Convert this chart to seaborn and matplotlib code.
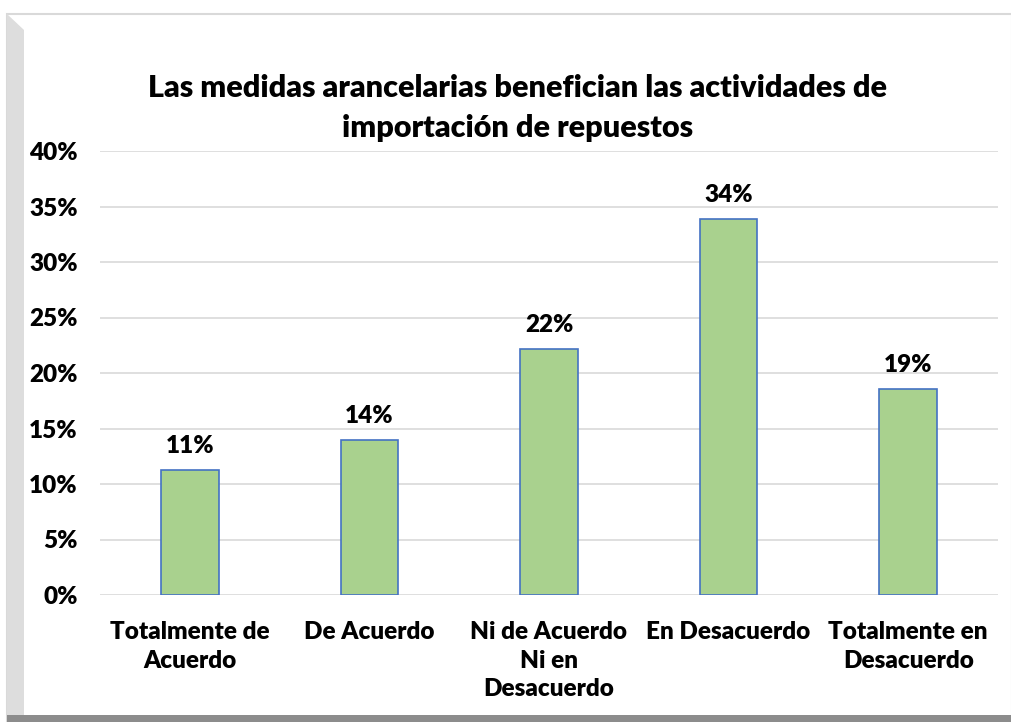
#Add libraries
import pandas as pd
import matplotlib.pyplot as plt
import seaborn as sns
from matplotlib.patches import Rectangle, Polygon
from matplotlib.ticker import FuncFormatter

#Chart data
categories = ['Totalmente de\nAcuerdo', 'De Acuerdo', 'Ni de Acuerdo\nNi en\nDesacuerdo',
              'En Desacuerdo', 'Totalmente en\nDesacuerdo']
values = [0.113, 0.140, 0.222, 0.339, 0.186]
value_labels = ['11%', '14%', '22%', '34%', '19%']
y_ticks = [0, 0.05, 0.10, 0.15, 0.20, 0.25, 0.30, 0.35, 0.40]
title = 'Las medidas arancelarias benefician las actividades de\nimportación de repuestos'

df = pd.DataFrame({'Respuesta': categories, 'Porcentaje': values})

#Style
sns.set_style('white')
plt.rcParams['font.family'] = ['Lato', 'DejaVu Sans']
font_color = '#000000'
label_size = 17.5
weight = 'heavy'

fig = plt.figure(figsize=(10.12, 7.22), dpi=100)

#Frame and shadow like the excel chart
fig.patches.append(Rectangle((7 / 1012, 0), 1 - 7 / 1012, 1 - 14 / 722, transform=fig.transFigure,
                             facecolor='none', edgecolor='#D9D9D9', linewidth=1.5, zorder=-2))
fig.patches.append(Polygon([(7 / 1012, 0), (7 / 1012, 1 - 14 / 722), (24 / 1012, 1 - 30 / 722),
                            (24 / 1012, 7 / 722)], closed=True, transform=fig.transFigure,
                           facecolor='#DDDDDD', edgecolor='none', zorder=-1))
fig.patches.append(Rectangle((7 / 1012, 0), 1 - 7 / 1012, 7 / 722, transform=fig.transFigure,
                             facecolor='#8C8C8C', edgecolor='none', zorder=-1))

ax = fig.add_axes([100 / 1012, 127 / 722, 898 / 1012, 444 / 722])
ax.set_facecolor('none')

sns.barplot(data=df, x='Respuesta', y='Porcentaje', ax=ax, color='#A9D18E',
            edgecolor='#4472C4', linewidth=1.2, width=0.32, saturation=1, zorder=3)

ax.set_ylim(0, 0.40)
ax.set_yticks(y_ticks)
ax.yaxis.set_major_formatter(FuncFormatter(lambda v, p: f'{v * 100:.0f}%'))
ax.grid(axis='y', color='#D9D9D9', linewidth=1.2, zorder=0)
for s in ax.spines.values():
    s.set_visible(False)
ax.tick_params(axis='both', length=0, labelsize=label_size, labelcolor=font_color)
ax.tick_params(axis='y', pad=16)
ax.tick_params(axis='x', pad=19)
ax.set_xlabel('')
ax.set_ylabel('')

plt.setp(ax.get_yticklabels() + ax.get_xticklabels(), fontweight=weight)
plt.setp(ax.get_xticklabels(), linespacing=1.36)

#Add values above the bars
for i, (v, t) in enumerate(zip(values, value_labels)):
    ax.annotate(t, (i, v), xytext=(0, 9), textcoords='offset points', ha='center', va='bottom',
                fontsize=label_size, fontweight=weight, color=font_color)

fig.text(0.511, 1 - 108 / 722, title, ha='center', va='center', fontsize=22,
         fontweight=weight, color=font_color, linespacing=1.55)

fig.savefig('out.png', dpi=100)
